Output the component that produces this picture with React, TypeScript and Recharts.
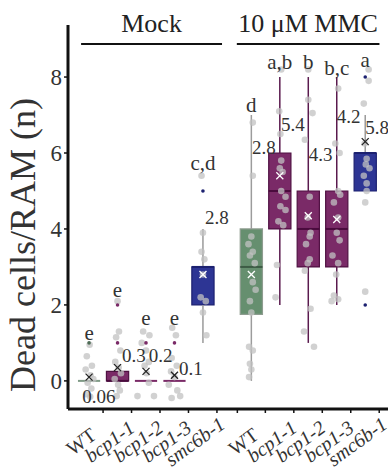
import React from "react";
import {
  ComposedChart,
  XAxis,
  YAxis,
  Scatter,
  ReferenceArea,
  ReferenceLine,
} from "recharts";

const FONT = "'Liberation Serif', 'DejaVu Serif', serif";

const genotypes = ["WT", "bcp1-1", "bcp1-2", "bcp1-3", "smc6b-1"];
// x position of each box: Mock 1..5, MMC shifted right by the group gap
const positions = [1, 2, 3, 4, 5, 6.7, 7.7, 8.7, 9.7, 10.7];

// box statistics, one entry per box (Mock then MMC)
const mins = [0, 0, 0, 0, 1, 0, 2, 1, 2, 5];
const q1s = [0, 0, 0, 0, 2, 1.75, 4, 3, 3, 5];
const medians = [0, 0, 0, 0, 3, 3, 5, 4, 4, 6];
const q3s = [0, 0.25, 0, 0, 3, 4, 6, 5, 5, 6];
const maxs = [0, 0, 0, 0, 4, 7, 8, 8, 8, 7];

// mean marker (x) as drawn, and its printed value
const meanMarks = [0.1, 0.35, 0.25, 0.15, 2.8, 2.8, 5.4, 4.35, 4.25, 6.3];
const meanTexts = ["0.06", "0.3", "0.2", "0.1", "2.8", "2.8", "5.4", "4.3", "4.2", "5.8"];
const meanTextX = [0.76, 2.16, 3.1, 4.16, 5.07, 6.72, 7.74, 8.72, 9.7, 10.7];
const meanTextY = [-0.42, 0.66, 0.68, 0.32, 4.3, 6.15, 6.75, 5.95, 6.97, 6.68];

// significance letters
const letters = ["e", "e", "e", "e", "c,d", "d", "a,b", "b", "b,c", "a"];
const letterY = [1.26, 2.4, 1.66, 1.66, 5.74, 7.26, 8.4, 8.4, 8.24, 8.45];

// outliers: box index, value
const outlierIdx = [0, 1, 1, 2, 3, 4, 9, 9];
const outlierVal = [1, 1, 2, 1, 1, 5, 8, 2];

// individual roots (y) with horizontal jitter (dx), per box
const pointsY = [
  [0.95, 0.65, 0.4, 0.3, 0.15, 0.05, -0.05, -0.2, -0.35, -0.42],
  [2.1, 1.3, 1.15, 0.8, 0.5, 0.35, 0.2, 0.05, -0.1, -0.25, -0.4],
  [1.3, 1.2, 1.0, 0.8, 0.5, 0.4, 0.2, -0.05, -0.4, -0.4],
  [1.4, 1.2, 0.6, 0.4, 0.25, 0.1, -0.1, -0.25, -0.45, -0.4],
  [5.4, 3.9, 3.4, 3.2, 2.8, 2.2, 2.1, 1.8, 1.2],
  [6.8, 5.4, 3.8, 3.6, 3.4, 3.3, 3.1, 2.6, 2.4, 2.1, 1.8, 0.9, 0.8, 0.45, 0.3, 0.1],
  [8.2, 7.1, 6.5, 5.8, 5.6, 5.5, 5.0, 4.85, 4.6, 4.5, 4.2, 4.1, 3.05, 2.2],
  [8.2, 7.4, 7.05, 6.35, 4.85, 4.3, 3.9, 3.8, 3.6, 3.2, 3.1, 2.9, 1.9, 1.3, 0.9],
  [7.7, 6.25, 6.0, 5.0, 4.9, 4.7, 4.3, 3.9, 3.7, 3.3, 3.1, 2.8, 2.25, 2.15, 2.1],
  [8.2, 7.9, 7.3, 6.25, 5.85, 5.7, 5.6, 5.4, 5.2, 5.0, 4.7, 2.35],
];
const pointsDx = [
  [0.02, -0.08, 0.1, -0.12, 0.05, 0.15, -0.05, 0.08, -0.1, 0.04],
  [0.0, 0.05, -0.05, 0.1, -0.08, 0.04, 0.12, -0.1, 0.02, 0.08, -0.03],
  [-0.1, 0.12, -0.15, 0.0, 0.1, -0.05, 0.02, 0.1, -0.3, 0.28],
  [-0.08, 0.05, -0.1, 0.08, -0.12, 0.0, -0.2, 0.1, -0.1, 0.2],
  [-0.05, 0.0, -0.05, 0.05, 0.0, -0.08, 0.1, 0.0, 0.12],
  [0.05, 0.05, 0.0, -0.1, 0.05, -0.05, 0.12, 0.05, 0.15, -0.05, 0.0, -0.08, 0.05, -0.05, 0.0, -0.08],
  [0.05, -0.02, 0.02, 0.05, 0.0, 0.1, 0.05, 0.2, 0.02, 0.2, -0.05, 0.12, -0.1, -0.15],
  [0.0, 0.0, 0.15, -0.12, 0.05, -0.02, 0.08, 0.05, -0.08, 0.05, -0.02, -0.12, 0.08, -0.15, 0.2],
  [0.05, -0.05, 0.1, 0.05, 0.12, -0.1, 0.05, 0.0, 0.1, -0.15, 0.05, -0.02, -0.1, 0.05, -0.18],
  [0.12, 0.12, -0.05, -0.02, 0.05, 0.02, 0.15, -0.05, 0.05, 0.05, 0.0, 0.0],
];

const STYLES: Record<string, any> = {
  WT: { fill: "#668f6f", stroke: "#8d9c8f", median: "#3d5c45", whisker: "#9c9c9c", dot: "#4d6b55" },
  bcp: { fill: "#7a2a67", stroke: "#4f1142", median: "#4a0b3d", whisker: "#5a1a4e", dot: "#7a2a67" },
  smc: { fill: "#2d3594", stroke: "#1c2170", median: "#1c2170", whisker: "#9a9a9a", dot: "#1c2170" },
};
const styleFor = (i: number) => {
  const g = genotypes[i % 5];
  if (g === "WT") return STYLES.WT;
  if (g.startsWith("smc")) return STYLES.smc;
  return STYLES.bcp;
};

const BOX_HALF = 0.39;

const pointData = pointsY.flatMap((ys, i) =>
  ys.map((y, j) => ({ x: positions[i] + pointsDx[i][j], y }))
);
const meanData = positions.map((x, i) => ({
  x,
  y: meanMarks[i],
  inside: meanMarks[i] > q1s[i] && meanMarks[i] < q3s[i],
}));
const meanTextData = positions.map((_, i) => ({ x: meanTextX[i], y: meanTextY[i], label: meanTexts[i] }));
const letterData = positions.map((x, i) => ({ x, y: letterY[i], label: letters[i] }));
const outlierData = outlierIdx.map((b, i) => ({ x: positions[b], y: outlierVal[i], color: styleFor(b).dot }));

const XTick = (props: any) => {
  const { x, y, payload } = props;
  const i = positions.indexOf(payload.value);
  const name = genotypes[i % 5];
  return (
    <g>
      <line x1={x + 14} x2={x + 14} y1={y} y2={y + 4} stroke="#111" strokeWidth={1.5} />
      {i === 5 && <line x1={x - 14} x2={x - 14} y1={y} y2={y + 4} stroke="#111" strokeWidth={1.5} />}
      <text
        transform={`translate(${x - 4},${y + 38}) rotate(-36)`}
        textAnchor="middle"
        fontFamily={FONT}
        fontSize={20}
        fontStyle={name === "WT" ? "normal" : "italic"}
        fill="#333"
      >
        {name}
      </text>
    </g>
  );
};

const Cross = (props: any) => {
  const { cx, cy, payload } = props;
  const c = payload.inside ? "#ffffff" : "#222";
  const s = 3.5;
  return (
    <g stroke={c} strokeWidth={1.3}>
      <line x1={cx - s} y1={cy - s} x2={cx + s} y2={cy + s} />
      <line x1={cx - s} y1={cy + s} x2={cx + s} y2={cy - s} />
    </g>
  );
};

export default function App() {
  return (
    <div style={{ position: "absolute", left: 0, top: 0, background: "#fff" }}>
      <ComposedChart width={388} height={472} margin={{ top: 25, right: 0, bottom: 0, left: 0 }}>
        <XAxis
          type="number"
          dataKey="x"
          domain={[0.26, 11.5]}
          allowDataOverflow
          ticks={positions}
          interval={0}
          tick={<XTick />}
          tickLine={false}
          tickSize={0}
          tickMargin={0}
          height={63}
          axisLine={{ stroke: "#111", strokeWidth: 3 }}
        />
        <YAxis
          type="number"
          dataKey="y"
          domain={[-0.74, 9.37]}
          allowDataOverflow
          ticks={[0, 2, 4, 6, 8]}
          width={68}
          tickSize={4}
          tickMargin={2}
          tickLine={{ stroke: "#111", strokeWidth: 1.5 }}
          axisLine={{ stroke: "#111", strokeWidth: 3 }}
          tick={{ fontSize: 23, fontFamily: FONT, fill: "#333" }}
          label={{
            content: () => (
              <text
                x={35}
                y={245}
                transform="rotate(-90 35 245)"
                textAnchor="middle"
                fontFamily={FONT}
                fontSize={36}
                fill="#333"
              >
                Dead cells/RAM (n)
              </text>
            ),
          }}
        />

        <ReferenceLine
          segment={[{ x: 0.72, y: 8.87 }, { x: 5.67, y: 8.87 }]}
          stroke="#111"
          strokeWidth={2}
          ifOverflow="visible"
          label={{ value: "Mock", position: "top", offset: 12, fill: "#222", fontSize: 26, fontFamily: FONT }}
        />
        <ReferenceLine
          segment={[{ x: 6.19, y: 8.87 }, { x: 11.2, y: 8.87 }]}
          stroke="#111"
          strokeWidth={2}
          ifOverflow="visible"
          label={{ value: "10 μM MMC", position: "top", offset: 12, fill: "#222", fontSize: 26, fontFamily: FONT }}
        />

        {positions.map((p, i) => {
          const st = styleFor(i);
          return mins[i] < q1s[i] ? (
            <ReferenceLine
              key={`wl-${i}`}
              segment={[{ x: p, y: mins[i] }, { x: p, y: q1s[i] }]}
              stroke={st.whisker}
              strokeWidth={1.5}
            />
          ) : null;
        })}
        {positions.map((p, i) => {
          const st = styleFor(i);
          return maxs[i] > q3s[i] ? (
            <ReferenceLine
              key={`wh-${i}`}
              segment={[{ x: p, y: q3s[i] }, { x: p, y: maxs[i] }]}
              stroke={st.whisker}
              strokeWidth={1.5}
            />
          ) : null;
        })}
        {positions.map((p, i) => {
          const st = styleFor(i);
          return q3s[i] > q1s[i] ? (
            <ReferenceArea
              key={`box-${i}`}
              x1={p - BOX_HALF}
              x2={p + BOX_HALF}
              y1={q1s[i]}
              y2={q3s[i]}
              fill={st.fill}
              fillOpacity={1}
              stroke={st.stroke}
              strokeWidth={1.2}
            />
          ) : null;
        })}
        {positions.map((p, i) => {
          const st = styleFor(i);
          const flat = q3s[i] === q1s[i];
          return (
            <ReferenceLine
              key={`med-${i}`}
              segment={[{ x: p - BOX_HALF, y: medians[i] }, { x: p + BOX_HALF, y: medians[i] }]}
              stroke={flat ? (i === 0 ? "#7f9a86" : st.fill) : st.median}
              strokeWidth={2}
            />
          );
        })}

        <Scatter
          data={pointData}
          isAnimationActive={false}
          shape={(p: any) => <circle cx={p.cx} cy={p.cy} r={3.3} fill="#c2c2c2" fillOpacity={0.75} />}
        />
        <Scatter
          data={outlierData}
          isAnimationActive={false}
          shape={(p: any) => <circle cx={p.cx} cy={p.cy} r={1.8} fill={p.payload.color} />}
        />
        <Scatter data={meanData} isAnimationActive={false} shape={<Cross />} />
        <Scatter
          data={meanTextData}
          isAnimationActive={false}
          shape={(p: any) => (
            <text x={p.cx} y={p.cy} dominantBaseline="central" fontFamily={FONT} fontSize={19} fill="#333">
              {p.payload.label}
            </text>
          )}
        />
        <Scatter
          data={letterData}
          isAnimationActive={false}
          shape={(p: any) => (
            <text
              x={p.cx}
              y={p.cy}
              textAnchor="middle"
              dominantBaseline="central"
              fontFamily={FONT}
              fontSize={21}
              fill="#333"
            >
              {p.payload.label}
            </text>
          )}
        />
      </ComposedChart>
    </div>
  );
}
